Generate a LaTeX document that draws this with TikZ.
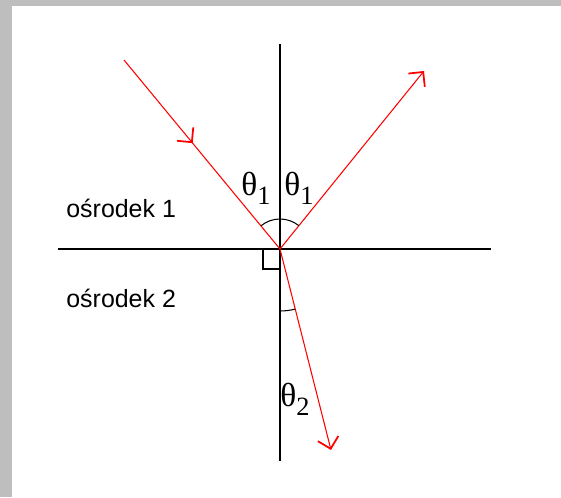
\documentclass[tikz,border=0pt]{standalone}
\usepackage{fontspec}
\setmainfont{Liberation Sans}
\newfontfamily\grecka{Liberation Serif}
\definecolor{ramka}{HTML}{BEBEBE}
\usepackage{tikz}
\usetikzlibrary{arrows.meta, decorations.markings}
\tikzset{
	osnode/.style={
			draw=black,
			line width=0.8pt
		},
	promien/.style={
			draw=red,
			line width=0.6pt
		},
	grot/.style={
			-{Straight Barb[length=6pt,width=12pt,line width=1pt]}
		},
	katnode/.style={
			draw=black,
			line width=0.6pt
		},
	opisnode/.style={
			anchor=west,
			inner sep=0pt,
			font=\fontsize{14.2}{16}\selectfont
		},
	thetanode/.style={
			inner sep=0pt,
			font=\grecka\fontsize{19}{22}\selectfont
		}
}
\newcommand{\kat}[1]{θ\lower0.6ex\hbox{\fontsize{15}{15}\selectfont #1}}

\begin{document}
\begin{tikzpicture}[x=0.02cm,y=-0.02cm]
\useasboundingbox (0,0) rectangle (561,497);
\fill[ramka] (0,0) rectangle (561,6);
\fill[ramka] (0,0) rectangle (12,497);

\coordinate (O) at (280,249);
\coordinate (gora) at (280,44);
\coordinate (dol) at (280,461);
\coordinate (lewo) at (58,249);
\coordinate (prawo) at (491,249);
\coordinate (pad) at (124,60);
\coordinate (odb) at (424,71);
\coordinate (zal) at (331,450);

\draw[osnode] (gora) -- (dol);
\draw[osnode] (lewo) -- (prawo);

\draw[promien, postaction={decorate, decoration={markings,
	mark=at position 0.44 with {\arrow{Straight Barb[length=6pt,width=12pt,line width=1pt]}}}}] (pad) -- (O);
\draw[promien, grot] (O) -- (odb);
\draw[promien, grot] (O) -- (zal);

\draw[katnode] (O) ++(-129.5:30) arc[start angle=-129.5, end angle=-51, radius=30];
\draw[katnode] (O) ++(75.8:62) arc[start angle=75.8, end angle=90, radius=62];
\draw[katnode] (263,249) -- (263,269) -- (280,269);

\node[thetanode] (t1l) at (256,188) {\kat{1}};
\node[thetanode] (t1p) at (299,188) {\kat{1}};
\node[thetanode] (t2) at (295,399) {\kat{2}};

\node[opisnode] (o1) at (66,208) {ośrodek 1};
\node[opisnode] (o2) at (66,298) {ośrodek 2};

\end{tikzpicture}
\end{document}
